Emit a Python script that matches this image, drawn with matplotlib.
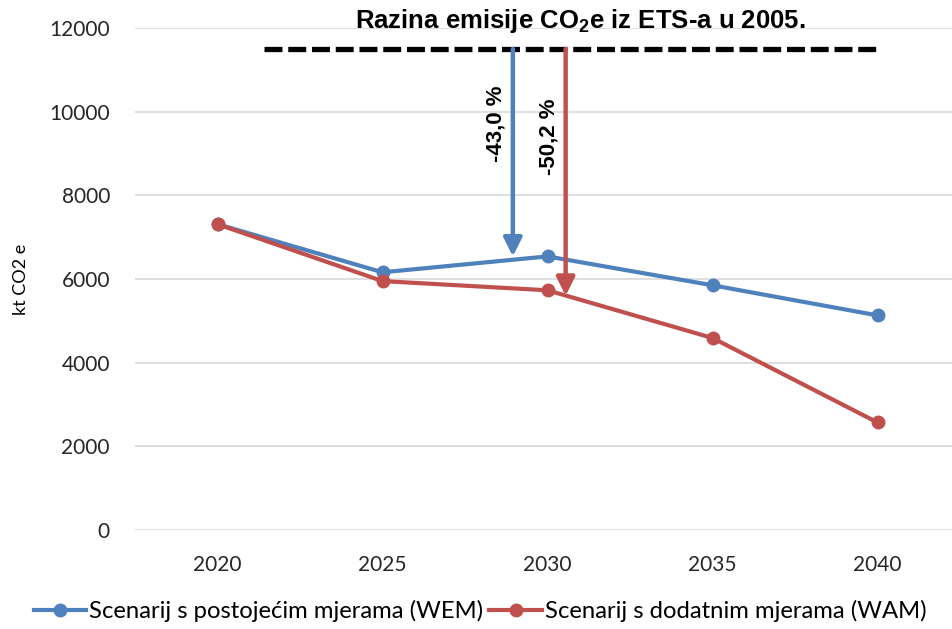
import numpy as np
import matplotlib.pyplot as plt

# Emission projections, kt CO2e
years = ["2020", "2025", "2030", "2035", "2040"]
wem = [7310, 6160, 6540, 5850, 5130]
wam = [7310, 5950, 5730, 4590, 2570]
level_2005 = 11500
wem_cut_label = "-43,0 %"
wam_cut_label = "-50,2 %"

BLUE = "#4F81BD"
RED = "#C0504D"

fig = plt.figure(figsize=(9.53, 6.29), dpi=100)
ax = fig.add_axes([135 / 953, 99 / 629, 825 / 953, 502 / 629])

x = np.arange(len(years))
ax.plot(x, wem, color=BLUE, lw=3, marker="o", ms=9,
        label="Scenarij s postojećim mjerama (WEM)", zorder=3)
ax.plot(x, wam, color=RED, lw=3, marker="o", ms=9,
        label="Scenarij s dodatnim mjerama (WAM)", zorder=3)

ax.set_xlim(-0.5, 4.5)
ax.set_ylim(0, 12000)
ax.set_yticks(range(0, 12001, 2000))
ax.set_xticks(x)
ax.set_xticklabels(years)
ax.yaxis.grid(True, color="#D9D9D9", lw=1.2)
ax.set_axisbelow(True)
for s in ax.spines.values():
    s.set_visible(False)
ax.tick_params(length=0, labelsize=15, colors="#262626")
for lbl in ax.get_xticklabels() + ax.get_yticklabels():
    lbl.set_family("Lato")
ax.tick_params(axis="y", pad=18)
ax.tick_params(axis="x", pad=18)
ax.set_ylabel("kt CO2 e", fontsize=13, family="Lato", labelpad=15)

# 2005 reference level
ax.plot([0.28, 4.02], [level_2005, level_2005], color="black", lw=3.8,
        ls=(0, (3.4, 1.1)), zorder=4, clip_on=False)
ax.text(2.2, 12160, "Razina emisije CO$_\\mathregular{2}$e iz ETS-a u 2005.",
        ha="center", va="center", fontsize=18.5, fontweight="bold",
        family="Liberation Sans", clip_on=False)

# reduction arrows down to the 2030 values
arrows = [(1.79, wem[2], BLUE, wem_cut_label, 1.69, 9700),
          (2.11, wam[2] - 130, RED, wam_cut_label, 2.01, 9400)]
for xa, ytip, col, txt, xt, yt in arrows:
    ax.annotate("", xy=(xa, ytip), xytext=(xa, level_2005),
                arrowprops=dict(arrowstyle="-|>,head_length=1.1,head_width=0.55",
                                color=col, lw=3.2, shrinkA=0, shrinkB=0),
                zorder=5)
    ax.text(xt, yt, txt, rotation=90, ha="center", va="center",
            fontsize=16, fontweight="bold", family="Liberation Sans")

leg = fig.legend(loc="lower left", bbox_to_anchor=(0.018, -0.016), ncol=2,
                 frameon=False, handlelength=2.2, handletextpad=0.12,
                 columnspacing=0.25, borderaxespad=0.3,
                 prop={"family": "Lato", "size": 17.2})

fig.savefig("out.png", dpi=100)
